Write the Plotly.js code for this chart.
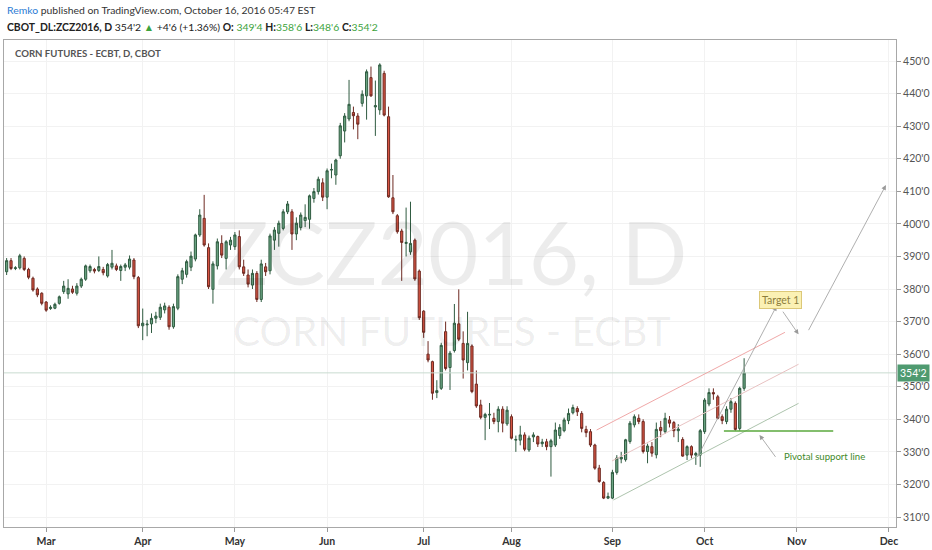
<!DOCTYPE html>
<html>
<head>
<meta charset="utf-8">
<script src="https://cdn.plot.ly/plotly-3.0.1.min.js"></script>
<style>
  body { margin: 0; background: #fff; }
  #chart { width: 932px; height: 550px; }
</style>
</head>
<body>
<div id="chart"></div>
<script>
// daily OHLC, ZCZ2016, from Feb 17 2016 to Oct 14 2016 (cents/bu)
const opens = [
  385.3, 388.7, 386.3, 386.5, 389.4, 386.0, 383.3, 380.0, 378.7,
  376.0, 374.0, 374.1, 375.6, 379.2, 378.5, 380.0, 378.7, 380.9, 383.0,
  385.6, 386.0, 385.7, 386.0, 384.0, 386.7, 387.1, 385.7, 386.7, 386.7,
  388.9, 383.5, 368.7, 369.0, 369.3, 371.0, 371.3, 373.6, 374.4, 368.4,
  374.1, 383.0, 384.5, 386.7, 389.2, 396.6, 401.7, 392.7, 379.9, 387.1,
  394.0, 389.4, 393.5, 393.0, 396.1, 386.8, 384.3, 381.2, 384.8, 376.8,
  386.8, 385.6, 395.0, 397.1, 398.6, 403.7, 403.7, 396.9, 398.9, 401.0,
  401.4, 407.8, 409.9, 412.6, 408.2, 416.5, 415.0, 420.9, 428.5, 432.2,
  434.2, 433.1, 437.0, 439.3, 444.9, 435.9, 435.0, 446.2, 432.9, 408.0,
  402.5, 397.8, 394.0, 391.4, 395.0, 385.5, 373.2, 360.0, 357.7, 348.2,
  349.5, 366.9, 355.9, 361.1, 369.3, 363.3, 357.4, 362.5, 350.8, 344.4,
  340.6, 341.3, 340.3, 339.3, 343.1, 338.6, 340.8, 333.6, 333.6, 335.2,
  330.6, 334.6, 334.7, 332.5, 333.1, 331.6, 332.1, 335.0, 336.5, 339.6,
  342.0, 343.3, 341.8, 336.9, 336.2, 332.1, 325.0, 320.6, 315.8, 315.8,
  323.7, 327.8, 327.6, 333.2, 338.3, 340.3, 339.3, 330.1, 331.6, 329.1,
  337.5, 336.2, 339.8, 339.0, 336.5, 333.8, 329.0, 331.6, 329.0, 329.0,
  336.2, 344.7, 348.2, 346.9, 340.8, 339.3, 343.1, 344.9, 337.2, 349.5
];
const highs = [
  389.5, 389.5, 387.0, 390.8, 390.0, 386.5, 383.8, 380.5, 379.0,
  376.3, 375.0, 375.8, 378.0, 382.5, 383.0, 381.0, 381.8, 383.5, 387.5,
  387.5, 386.5, 390.0, 386.8, 388.0, 392.0, 387.8, 387.5, 388.0, 390.3,
  389.5, 384.0, 374.0, 370.5, 372.5, 373.0, 375.5, 375.8, 375.0, 375.5,
  384.5, 386.5, 389.0, 391.5, 397.0, 404.5, 408.9, 394.0, 388.5, 395.5,
  396.5, 395.0, 396.0, 397.5, 398.0, 389.0, 386.0, 386.0, 385.5, 389.0,
  388.0, 397.0, 399.0, 401.0, 404.5, 407.0, 404.5, 402.0, 403.5, 406.0,
  409.0, 411.0, 414.5, 414.0, 417.0, 418.5, 420.0, 431.0, 434.0, 444.2,
  436.0, 434.0, 441.0, 447.4, 448.3, 444.0, 449.3, 447.0, 436.0, 415.0,
  403.0, 398.5, 405.0, 406.8, 395.5, 386.0, 373.5, 364.0, 358.0, 352.0,
  363.5, 370.0, 361.0, 375.4, 379.9, 367.0, 373.0, 363.0, 355.0, 346.0,
  342.0, 345.0, 342.0, 344.0, 344.0, 344.0, 341.5, 335.0, 338.0, 336.0,
  335.0, 336.0, 335.0, 334.0, 334.0, 334.0, 339.0, 338.5, 340.5, 343.3,
  344.5, 344.0, 342.5, 338.0, 337.0, 332.5, 326.0, 321.0, 317.5, 324.5,
  329.0, 330.0, 334.0, 339.5, 341.5, 341.5, 340.0, 332.5, 333.0, 339.0,
  339.5, 342.0, 341.0, 339.5, 338.5, 334.5, 332.0, 332.0, 330.0, 337.0,
  346.5, 349.5, 349.5, 347.5, 341.5, 344.0, 346.5, 345.5, 350.0, 358.75
];
const lows = [
  384.3, 385.8, 385.8, 386.0, 385.5, 383.0, 379.2, 377.5, 375.0,
  373.0, 373.6, 373.8, 375.2, 378.5, 377.0, 378.5, 378.0, 380.3, 382.5,
  385.0, 384.8, 385.2, 384.2, 383.5, 386.0, 385.5, 382.5, 385.5, 386.0,
  383.0, 368.0, 364.3, 365.5, 366.5, 369.5, 370.5, 372.5, 367.5, 367.8,
  373.5, 381.5, 383.5, 385.5, 388.5, 396.0, 393.0, 380.0, 375.5, 386.0,
  389.5, 386.0, 392.0, 392.0, 386.0, 384.0, 380.5, 380.0, 376.0, 376.0,
  384.0, 384.5, 392.0, 393.0, 398.0, 403.0, 392.0, 395.0, 398.0, 399.0,
  398.5, 406.5, 409.0, 407.0, 404.5, 414.0, 412.0, 420.0, 425.0, 431.5,
  429.0, 426.0, 436.0, 432.0, 439.0, 427.0, 433.5, 433.0, 408.0, 403.0,
  397.0, 382.5, 390.0, 390.5, 382.5, 370.5, 365.0, 357.5, 346.0, 346.5,
  349.0, 355.0, 349.0, 360.5, 364.0, 352.5, 355.0, 348.0, 343.5, 340.0,
  333.6, 337.0, 338.5, 336.0, 336.0, 338.0, 333.8, 330.0, 332.0, 330.2,
  330.0, 333.0, 331.5, 331.5, 330.5, 322.4, 331.5, 334.0, 336.0, 338.5,
  341.5, 341.0, 336.0, 334.5, 331.5, 324.5, 320.5, 315.5, 315.5, 315.5,
  323.0, 326.5, 327.0, 332.5, 337.5, 338.5, 329.5, 326.5, 328.5, 328.0,
  334.5, 335.5, 337.5, 334.5, 333.0, 328.5, 327.5, 328.0, 326.0, 325.4,
  335.5, 344.0, 346.0, 340.0, 338.5, 338.5, 342.0, 336.5, 336.5, 348.75
];
const closes = [
  388.7, 386.3, 386.5, 390.2, 386.0, 383.6, 379.7, 378.2, 375.6,
  373.5, 374.4, 375.3, 377.6, 380.9, 380.2, 379.0, 380.9, 383.0, 387.1,
  386.9, 385.5, 386.9, 385.0, 387.5, 387.9, 386.0, 386.9, 387.4, 389.2,
  383.8, 368.7, 369.5, 369.2, 371.0, 371.7, 374.4, 374.8, 368.4, 374.6,
  383.8, 385.6, 388.4, 390.1, 396.6, 402.7, 393.5, 380.7, 387.7, 394.5,
  390.4, 394.5, 395.0, 396.6, 386.8, 384.8, 381.5, 384.8, 376.8, 387.7,
  385.3, 396.3, 398.1, 400.2, 403.7, 406.1, 396.9, 400.2, 402.7, 402.0,
  408.6, 409.9, 413.7, 408.2, 416.3, 416.7, 419.6, 430.1, 433.1, 436.7,
  433.2, 430.6, 439.8, 446.7, 439.3, 436.3, 448.8, 433.4, 408.3, 403.7,
  397.6, 394.3, 394.3, 394.0, 383.1, 371.2, 366.7, 358.2, 348.0, 348.8,
  362.7, 355.6, 360.3, 369.5, 364.6, 358.2, 363.3, 348.5, 344.1, 340.6,
  341.5, 341.5, 339.3, 343.1, 338.8, 342.8, 334.2, 333.8, 335.2, 330.8,
  334.2, 335.2, 332.4, 333.0, 331.6, 333.4, 336.7, 337.5, 339.8, 341.8,
  343.6, 342.3, 337.2, 335.9, 332.1, 325.0, 320.9, 315.8, 316.3, 323.7,
  328.1, 328.4, 333.7, 338.8, 340.8, 339.3, 330.1, 331.8, 329.6, 336.9,
  336.5, 340.3, 338.8, 336.5, 337.0, 328.7, 331.6, 329.0, 329.5, 336.5,
  345.9, 348.2, 347.8, 340.3, 339.6, 343.1, 345.4, 336.9, 349.5, 354.25
];

const monthNames = ['Jan','Feb','Mar','Apr','May','Jun','Jul','Aug','Sep','Oct','Nov','Dec'];
const holidays = ['2016-03-25','2016-05-30','2016-07-04','2016-09-05','2016-11-24'];
const firstDay = '2016-02-17';
const lastDay = '2016-12-09';
const priceTicks = [310,320,330,340,350,360,370,380,390,400,410,420,430,440,450];
const lastPrice = 354.25;
const lastPriceLabel = "354'2";

// trading-day calendar -> bar slots (chart is drawn on bar index, like TradingView)
const days = [];
for (let d = new Date(firstDay + 'T00:00:00Z'); d <= new Date(lastDay + 'T00:00:00Z'); d.setUTCDate(d.getUTCDate() + 1)) {
  const s = d.toISOString().slice(0, 10);
  const wd = d.getUTCDay();
  if (wd === 0 || wd === 6 || holidays.includes(s)) continue;
  days.push(s);
}
const monthTickVals = [], monthTickText = [];
days.forEach(function(s, i) {
  if (i > 0 && s.slice(5, 7) !== days[i - 1].slice(5, 7)) {
    monthTickVals.push(i);
    monthTickText.push(monthNames[parseInt(s.slice(5, 7)) - 1]);
  }
});
const barX = closes.map(function(c, i) { return i; });

const lato = 'Lato, "Liberation Sans", Arial, sans-serif';

const candles = {
  type: 'candlestick',
  x: barX, open: opens, high: highs, low: lows, close: closes,
  increasing: { line: { color: '#2f5b40', width: 1 }, fillcolor: '#6ba583' },
  decreasing: { line: { color: '#6e2a22', width: 1 }, fillcolor: '#d75442' },
  whiskerwidth: 0,
  hoverinfo: 'skip'
};

function arrow(x0, y0, x1, y1) {
  return {
    x: x1, y: y1, ax: x0, ay: y0, xref: 'x', yref: 'y', axref: 'x', ayref: 'y',
    text: '', showarrow: true, arrowhead: 2, arrowsize: 1.2, arrowwidth: 0.8, arrowcolor: '#9a9a9a'
  };
}

const layout = {
  width: 932, height: 550,
  margin: { l: 4, r: 36, t: 40, b: 23, pad: 0 },
  paper_bgcolor: '#ffffff', plot_bgcolor: '#ffffff',
  showlegend: false,
  boxgap: 0.3,
  xaxis: {
    range: [-0.6, 202.6],
    tickvals: monthTickVals, ticktext: monthTickText,
    showgrid: true, gridcolor: '#f2f2f2', zeroline: false,
    ticks: 'outside', ticklen: 4, tickcolor: '#999',
    showline: true, mirror: true, linecolor: '#a8a8a8',
    tickfont: { family: lato, size: 10.5, color: '#333', weight: 'bold' },
    rangeslider: { visible: false }, fixedrange: true
  },
  yaxis: {
    side: 'right',
    range: [306.93, 456.45],
    tickvals: priceTicks, ticktext: priceTicks.map(function(v) { return v + "'0"; }),
    showgrid: true, gridcolor: '#f2f2f2', zeroline: false,
    ticks: 'outside', ticklen: 4, tickcolor: '#999',
    showline: true, mirror: true, linecolor: '#a8a8a8',
    tickfont: { family: lato, size: 10.5, color: '#555' },
    fixedrange: true
  },
  shapes: [
    { type: 'line', xref: 'paper', yref: 'y', x0: 0, x1: 1, y0: lastPrice, y1: lastPrice,
      line: { color: '#c9dcd0', width: 1 } },
    // channel
    { type: 'line', x0: 134.4, y0: 336.7, x1: 177.3, y1: 366.7, line: { color: '#f0a8a8', width: 1 } },
    { type: 'line', x0: 137.9, y0: 327.2, x1: 180.4, y1: 356.9, line: { color: '#e8c2c2', width: 1 } },
    { type: 'line', x0: 138.2, y0: 315.2, x1: 180.4, y1: 344.9, line: { color: '#adc4ad', width: 1 } },
    // pivotal support
    { type: 'line', x0: 163.4, y0: 336.4, x1: 188.3, y1: 336.4, line: { color: '#5aa83c', width: 1.5 } }
  ],
  annotations: [
    { xref: 'paper', yref: 'paper', x: 0.502, y: 0.565, xanchor: 'center', yanchor: 'middle',
      text: 'ZCZ2016, D', showarrow: false, font: { family: lato, size: 87, color: 'rgba(0,0,0,0.075)' } },
    { xref: 'paper', yref: 'paper', x: 0.502, y: 0.404, xanchor: 'center', yanchor: 'middle',
      text: 'CORN FUTURES - ECBT', showarrow: false, font: { family: lato, size: 40.5, color: 'rgba(0,0,0,0.075)' } },
    { xref: 'paper', yref: 'paper', x: 0.001, y: 1.0616, xanchor: 'left', yanchor: 'middle', showarrow: false,
      text: '<span style="color:#2b7bd4">Remko</span> published on TradingView.com, October 16, 2016 05:47 EST',
      font: { family: lato, size: 10.4, color: '#333' } },
    { xref: 'paper', yref: 'paper', x: 0.001, y: 1.0267, xanchor: 'left', yanchor: 'middle', showarrow: false,
      text: "<b>CBOT_DL:ZCZ2016, D</b> 354'2 <span style=\"color:#3ca33c\">▲</span> +4'6 (+1.36%) " +
            "<b>O:</b> <span style=\"color:#3ca33c\">349'4</span> <b>H:</b><span style=\"color:#3ca33c\">358'6</span> " +
            "<b>L:</b><span style=\"color:#3ca33c\">348'6</span> <b>C:</b><span style=\"color:#3ca33c\">354'2</span>",
      font: { family: lato, size: 10.4, color: '#222' } },
    { xref: 'paper', yref: 'paper', x: 0.0101, y: 0.9733, xanchor: 'left', yanchor: 'middle', showarrow: false,
      text: '<b>CORN FUTURES - ECBT, D, CBOT</b>', font: { family: lato, size: 9.6, color: '#555' } },
    { xref: 'paper', yref: 'y', x: 1, y: lastPrice, xanchor: 'left', yanchor: 'middle', xshift: 1,
      text: lastPriceLabel, showarrow: false, bgcolor: '#4f9a70', borderpad: 2,
      font: { family: lato, size: 10.5, color: '#ffffff' } },
    arrow(157.2, 328.0, 175.4, 374.8),
    arrow(176.6, 373.5, 180.4, 366.1),
    arrow(182.5, 366.9, 200.3, 411.9),
    arrow(175.4, 328.0, 171.5, 335.2),
    { x: 176.4, y: 376.7, xref: 'x', yref: 'y', text: 'Target 1', showarrow: false,
      bgcolor: '#fbf1b4', bordercolor: '#dcc878', borderwidth: 1, borderpad: 2,
      font: { family: lato, size: 10.5, color: '#8c7d3c' } },
    { x: 186.2, y: 328.7, xref: 'x', yref: 'y', text: 'Pivotal support line', showarrow: false,
      font: { family: lato, size: 9.6, color: '#3f8a2a' } }
  ]
};

Plotly.newPlot('chart', [candles], layout, { displayModeBar: false, staticPlot: true });
</script>
</body>
</html>
